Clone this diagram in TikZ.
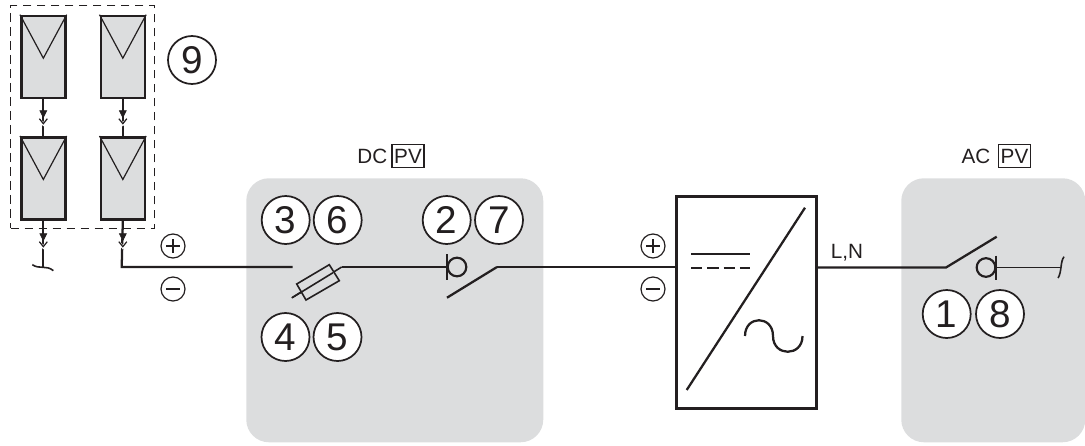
\documentclass[tikz,border=0pt]{standalone}
\usepackage{fontspec}
\setmainfont{Liberation Sans}
\usetikzlibrary{calc}
\definecolor{ink}{HTML}{231F20}
\definecolor{panelgray}{HTML}{DCDDDE}
\tikzset{
  x=0.75pt,y=-0.75pt,
  every node/.style={text=ink},
  wire/.style={draw=ink,line width=1.7pt,line join=miter},
  thin wire/.style={draw=ink,line width=1.2pt},
  pvpanel/.style={draw=ink,fill=panelgray,line width=2pt,minimum width=33pt,minimum height=61.5pt,inner sep=0pt,anchor=north west},
  zone/.style={fill=panelgray,rounded corners=17pt,inner sep=0pt,anchor=north west},
  num/.style={circle,draw=ink,fill=white,line width=1.3pt,minimum size=36pt,inner sep=0pt,font=\fontsize{29}{29}\selectfont},
  sign/.style={circle,draw=ink,line width=0.9pt,minimum size=18pt,inner sep=0pt},
  lab/.style={font=\fontsize{15.5}{16}\selectfont,inner sep=0pt},
  pvbox/.style={draw=ink,line width=0.8pt,font=\fontsize{15.5}{16}\selectfont,inner sep=0pt,minimum width=24pt,minimum height=17pt},
  contact/.style={circle,draw=ink,line width=1.6pt,minimum size=14pt,inner sep=0pt},
  inverter/.style={draw=ink,line width=2pt,minimum width=105pt,minimum height=159pt,inner sep=0pt,anchor=north west}
}
\newcommand{\plugmark}[1]{%
  \draw[draw=ink,fill=ink] ($(#1)+(-3.5,-7)$) -- ($(#1)+(3.5,-7)$) -- ($(#1)+(0,0)$) -- cycle;
  \draw[draw=white,line width=2.2pt] ($(#1)+(-4,2)$) -- ($(#1)+(0,6.5)$) -- ($(#1)+(4,2)$);
  \draw[draw=ink,line width=0.9pt] ($(#1)+(-4,1)$) -- ($(#1)+(0,6)$) -- ($(#1)+(4,1)$);
}
\begin{document}
\begin{tikzpicture}
\useasboundingbox (0,0) rectangle (1085,446);
% zones
\node[zone,minimum width=222.75pt,minimum height=198pt] (dczone) at (246,178) {};
\node[zone,minimum width=138pt,minimum height=198pt] (aczone) at (901,178) {};
% dashed frame
\node[draw=ink,line width=0.9pt,dash pattern=on 6.5pt off 4pt,minimum width=108pt,minimum height=167pt,inner sep=0pt,anchor=north west] (frame) at (10,5) {};
% PV panels
\node[pvpanel] (p1) at (20,14.7) {};
\node[pvpanel] (p2) at (99.5,14.7) {};
\node[pvpanel] (p3) at (20,136) {};
\node[pvpanel] (p4) at (99.5,136) {};
\foreach \p in {p1,p2,p3,p4}{
  \coordinate (\p v) at ($(\p.north)+(0,43.5)$);
  \draw[draw=ink,line width=0.9pt] (\p.north west) -- (\p v) -- (\p.north east);
}
% panel wires
\draw[wire] (p1.south) -- (p3.north);
\draw[wire] (p2.south) -- (p4.north);
\coordinate (m1) at ($(p1.south)!0.5!(p3.north)$);
\coordinate (m2) at ($(p2.south)!0.5!(p4.north)$);
\plugmark{m1}\plugmark{m2}
\coordinate (s1) at ($(p3.south)+(0,47)$);
\coordinate (t1) at ($(p3.south)+(-11,44)$);
\coordinate (t2) at ($(p3.south)+(10,50)$);
\draw[wire] (p3.south) -- (s1);
\draw[thin wire] (t1) .. controls ($(s1)+(-4,2)$) and ($(s1)+(3,-3)$) .. (t2);
\coordinate (m3) at ($(p3.south)+(0,20)$);
\plugmark{m3}
\coordinate (m4) at ($(p4.south)+(0,20)$);
\coordinate (c1) at (121.7,267);
\coordinate (fuseL) at (292.7,267);
\draw[wire] (p4.south) -- (c1) -- (fuseL);
\plugmark{m4}
% fuse
\coordinate (fuseA) at (292.7,297.3);
\coordinate (fuseB) at (341.7,267);
\draw[thin wire] (fuseA) -- (fuseB);
\draw[draw=ink,fill=panelgray,line width=1.2pt] (296.7,284) -- (329.3,264.7) -- (339.3,280.7) -- (306,300) -- cycle;
\draw[thin wire] (291.7,297.9) -- (302,291.6);
\draw[thin wire] (300,292.9) -- (333,272.7);
% DC switch
\coordinate (barA) at (447,254);
\coordinate (barB) at (447,280);
\coordinate (barM) at (447,267);
\node[contact] (con1) at (457,267) {};
\draw[wire] (fuseB) -- (barM);
\draw[wire] (barA) -- (barB);
\coordinate (swA) at (447,297.7);
\coordinate (swB) at (497,267);
\draw[wire] (swA) -- (swB);
% inverter
\node[inverter] (inv) at (675,195) {};
\draw[wire] (swB) -- (inv.west |- swB);
\draw[wire] (686.7,390) -- (805,207.7);
\draw[wire] (691,254) -- (749.5,254);
\draw[wire,dash pattern=on 8.5pt off 3.7pt] (691,268.3) -- (749.5,268.3);
\draw[wire] (745,336) .. controls (745,315) and (773,315) .. (773,336)
   .. controls (773,357) and (802.5,357) .. (802.5,336);
% AC side
\coordinate (acA) at (946,267.5);
\coordinate (acB) at (996.7,236.7);
\draw[wire] (inv.east |- acA) -- (acA) -- (acB);
\node[contact] (con2) at (986,267.5) {};
\coordinate (acM) at (996,267.5);
\coordinate (acE) at (1060,267.5);
\draw[wire] (996,255.5) -- (996,280);
\draw[thin wire] (acM) -- (acE);
\draw[thin wire] (1064,256.7) .. controls (1060,262) and (1062,272) .. (1058,278);
% numbered circles
\node[num] (n9) at (192,60) {9};
\node[num] (n3) at (285.7,220) {3};
\node[num] (n6) at (337.7,220) {6};
\node[num] (n2) at (446.7,220) {2};
\node[num] (n7) at (499,220) {7};
\node[num] (n4) at (285.5,337) {4};
\node[num] (n5) at (337.5,337) {5};
\node[num] (n1) at (946.7,314) {1};
\node[num] (n8) at (1000,314) {8};
% signs
\foreach \n/\cx in {a/173,b/653}{
  \node[sign] (plus\n) at (\cx,246) {};
  \node[sign] (minus\n) at (\cx,289) {};
  \draw[draw=ink,line width=1.7pt] ($(plus\n)+(-7,0)$) -- ($(plus\n)+(7,0)$);
  \draw[draw=ink,line width=1.7pt] ($(plus\n)+(0,-7)$) -- ($(plus\n)+(0,7)$);
  \draw[draw=ink,line width=1.7pt] ($(minus\n)+(-7,0)$) -- ($(minus\n)+(7,0)$);
}
% labels
\node[lab,anchor=east] (dclab) at (387.5,156) {DC};
\node[pvbox] (pv1) at (408,156) {PV};
\node[lab,anchor=east] (aclab) at (990.5,156) {AC};
\node[pvbox] (pv2) at (1014.5,156) {PV};
\node[lab,anchor=west] (ln) at (830.5,253) {L,N};
\end{tikzpicture}
\end{document}
